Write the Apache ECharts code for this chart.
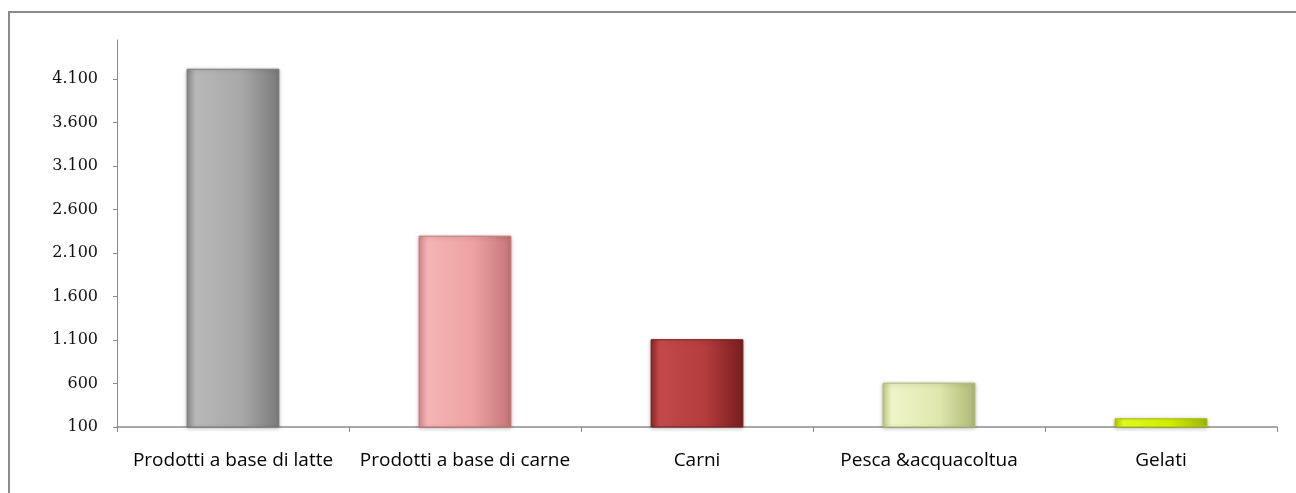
<!DOCTYPE html>
<html><head><meta charset="utf-8">
<script src="https://cdn.jsdelivr.net/npm/echarts@6/dist/echarts.min.js"></script>
<style>html,body{margin:0;padding:0;background:#fff}#c{width:1296px;height:493px;}
#frame{position:absolute;left:8px;top:11px;width:1300px;height:500px;border:2px solid #8a8a8a;box-sizing:border-box;pointer-events:none}</style>
</head><body><div id="c"></div><div id="frame"></div>
<script>
const categories = ['Prodotti a base di latte', 'Prodotti a base di carne', 'Carni', 'Pesca &acquacoltua', 'Gelati'];
const values = [4220, 2300, 1110, 610, 200];
const barColors = [
  ['#8a8a8a', '#b8b8b8', '#a8a8a8', '#7a7a7a'],
  ['#d48888', '#f4b4b4', '#eca2a2', '#c47474'],
  ['#8a2828', '#c44a4a', '#b43c3c', '#761e1e'],
  ['#c2cc88', '#eef4c6', '#e0e8ae', '#aeb874'],
  ['#b4d000', '#e6ff20', '#d6f200', '#a2bc00']
];
const fmt = v => String(v).replace(/\B(?=(\d{3})+(?!\d))/g, '.');
const chart = echarts.init(document.getElementById('c'));
chart.setOption({
  animation: false,
  grid: {left: 117, right: 19, top: 40, bottom: 66},
  xAxis: {
    type: 'category', data: categories,
    axisLine: {lineStyle: {color: '#8c8c8c', width: 1.5}},
    axisTick: {show: true, length: 5, lineStyle: {color: '#8c8c8c'}},
    axisLabel: {color: '#000', fontSize: 19, fontFamily: 'Open Sans', margin: 24, interval: 0}
  },
  yAxis: {
    type: 'value', min: 100, max: 4550, interval: 500,
    axisLine: {show: true, lineStyle: {color: '#8c8c8c', width: 1}},
    axisTick: {show: true, length: 4, lineStyle: {color: '#8c8c8c'}},
    splitLine: {show: false},
    axisLabel: {color: '#111', fontSize: 16, fontFamily: 'DejaVu Serif', showMaxLabel: false, margin: 19,
      formatter: v => fmt(v)}
  },
  series: [{
    type: 'bar', barWidth: '40%',
    data: values.map((v, i) => ({
      value: v,
      itemStyle: {
        color: {type: 'linear', x: 0, y: 0, x2: 1, y2: 0, colorStops: [
          {offset: 0, color: barColors[i][0]},
          {offset: 0.1, color: barColors[i][1]},
          {offset: 0.6, color: barColors[i][2]},
          {offset: 1, color: barColors[i][3]}
        ]},
        borderColor: barColors[i][3], borderWidth: 1,
        shadowColor: 'rgba(0,0,0,0.25)', shadowBlur: 4, shadowOffsetY: 1
      }
    }))
  }]
});
</script></body></html>
